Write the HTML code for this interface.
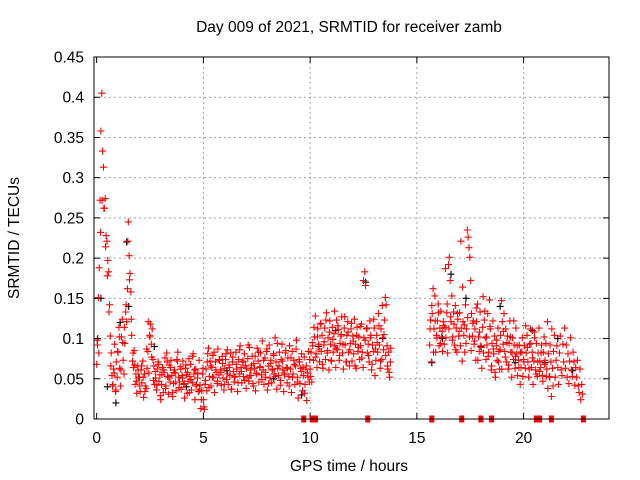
<!DOCTYPE html>
<html><head><meta charset="utf-8"><style>
html,body{margin:0;padding:0;background:#fff;}
svg{display:block;font-family:"Liberation Sans",sans-serif;}
</style></head><body>
<svg id="chart" width="640" height="480" viewBox="0 0 640 480">
<rect width="640" height="480" fill="#fff"/>
<text x="349" y="32" font-size="15.5" text-anchor="middle">Day 009 of 2021, SRMTID for receiver zamb</text>
<text transform="translate(19,238) rotate(-90)" font-size="15.5" text-anchor="middle">SRMTID / TECUs</text>
<text x="349" y="471" font-size="15.5" text-anchor="middle">GPS time / hours</text>
<g id="grid"></g>
<g id="ticks"></g>
<g id="black"></g>
<g id="red"></g>
<g id="gaps"></g>
<rect x="94" y="57" width="515" height="362" fill="none" stroke="#000" stroke-width="1"/>
</svg>
<script>
const xTicks = [0, 5, 10, 15, 20];
const yTicks = [0, 0.05, 0.1, 0.15, 0.2, 0.25, 0.3, 0.35, 0.4, 0.45];
const yTickLabels = ["0","0.05","0.1","0.15","0.2","0.25","0.3","0.35","0.4","0.45"];
const segStarts = [0.0, 2.0, 5.0, 10.0, 15.6];
const segStep = 0.04;
const seg0 = [.068,.092,.151,.188,.272,.358,.405,.333,.313,.262,.274,.228,.221,.197,.183,.142,.103,.082,.054,.043,.062,.093,.034,.071,.052,.083,.114,.063,.041,.102,.124,.073,.056,.094,.133,.121,.162,.245,.203,.181,.158,.104,.072,.064,.085,.043,.056,.032,.066,.052];
const seg1 = [.052,.034,.061,.045,.072,.027,.056,.041,.038,.063,.084,.057,.104,.118,.093,.112,.074,.066,.043,.051,.036,.062,.071,.047,.055,.024,.043,.064,.033,.058,.076,.041,.082,.053,.031,.067,.046,.073,.054,.028,.044,.061,.057,.035,.074,.083,.052,.046,.065,.037,.054,.072,.043,.026,.063,.055,.032,.047,.075,.053,.068,.036,.045,.081,.056,.024,.062,.043,.051,.034,.073,.042,.013,.035,.056];
const seg2 = [.024,.012,.043,.062,.035,.081,.088,.053,.072,.041,.064,.079,.052,.033,.071,.058,.044,.087,.055,.073,.061,.042,.078,.051,.036,.063,.074,.049,.086,.043,.067,.054,.082,.037,.071,.059,.046,.053,.083,.062,.034,.074,.056,.091,.064,.045,.072,.053,.081,.066,.038,.052,.075,.047,.089,.061,.054,.078,.044,.069,.063,.035,.057,.088,.072,.046,.064,.082,.055,.097,.061,.043,.076,.052,.084,.036,.066,.092,.051,.073,.045,.062,.081,.056,.101,.071,.037,.063,.054,.083,.042,.074,.093,.061,.034,.055,.082,.064,.045,.076,.053,.091,.062,.033,.084,.056,.073,.043,.066,.098,.052,.026,.074,.044,.063,.081,.035,.054,.077,.043,.062,.023,.057,.084,.046];
const seg3 = [.062,.083,.046,.091,.073,.102,.128,.081,.064,.112,.093,.071,.118,.084,.104,.063,.092,.113,.074,.132,.082,.101,.061,.122,.093,.072,.114,.083,.106,.091,.064,.123,.086,.111,.073,.094,.103,.127,.082,.062,.113,.092,.071,.104,.121,.083,.066,.094,.112,.072,.103,.081,.124,.093,.063,.114,.084,.102,.074,.091,.118,.083,.064,.101,.183,.166,.112,.082,.093,.071,.122,.104,.061,.092,.084,.113,.054,.073,.104,.083,.131,.092,.063,.112,.074,.101,.086,.123,.151,.142,.091,.062,.083,.052,.071];
const seg4 = [.092,.123,.071,.131,.162,.112,.153,.083,.104,.122,.143,.091,.113,.134,.102,.084,.121,.093,.114,.101,.132,.082,
.192,.201,.172,.121,.153,.102,.133,.092,.141,.113,.083,.124,
.103,.132,.091,.113,.072,.121,.104,.083,.142,.112,
.235,.226,.213,.201,.172,.131,.103,.122,
.093,.112,.073,.121,.143,.102,.084,.133,.091,.063,.114,.082,.123,.101,.074,.092,.131,.083,.148,.112,.061,.094,.122,.081,.103,.052,.091,.073,.113,.084,.062,.104,
.147,.121,.093,.131,.084,.112,.071,.103,.062,.094,.122,.083,.052,.101,.074,.092,.063,.113,.081,.054,.073,.092,.043,.064,.083,
.053,.074,.091,.063,.082,.104,.071,.052,.093,.112,.064,.083,.043,.072,.101,.061,.094,.053,.082,.113,.072,.064,.092,.054,.083,
.102,.073,.094,.062,.121,.081,.053,.092,.071,.112,.063,.084,.104,.052,.073,.091,.064,.043,.082,.103,.061,.054,.093,.071,.113,
.063,.092,.052,.081,.044,.072,.101,.061,.053,.083,.071,.042,.064,.052,.073,.041,.033,.062,.024,.043,.031];
const fillStarts = [0.02, 2.02, 5.02, 10.02, 15.62];
const fillStep = 0.08;
const fill0 = [.098,.082,.232,.272,.262,.214,.178,.133,.066,.041,.057,.036,.084,.102,.061,.095,.114,.142,.221,.173,.124,.082,.067,.047,.061];
const fill1 = [.041,.066,.052,.034,.087,.121,.102,.077,.048,.059,.042,.068,.029,.055,.061,.038,.071,.052,.064,.033,.058,.046,.072,.039,.062,.051,.044,.067,.058,.033,.049,.078,.061,.041,.057,.036,.024,.063];
const fill2 = [.015,.048,.071,.039,.066,.052,.083,.061,.047,.074,.058,.069,.043,.081,.056,.064,.037,.077,.052,.068,.045,.086,.059,.071,.048,.063,.092,.054,.067,.041,.078,.056,.083,.065,.049,.073,.058,.087,.044,.069,.061,.079,.053,.094,.066,.048,.072,.057,.085,.063,.041,.076,.052,.068,.087,.046,.071,.059,.064,.032,.066,.052,.074];
const fill3 = [.053,.095,.114,.077,.102,.087,.119,.068,.096,.123,.085,.108,.073,.099,.134,.088,.116,.079,.105,.093,.127,.071,.108,.086,.119,.097,.066,.104,.089,.115,.076,.172,.098,.113,.079,.101,.068,.124,.087,.095,.116,.072,.141,.105,.079,.066,.058,.088];
const fill4 = [.112,.141,.083,.122,.101,.132,.094,.109,.116,.187,.143,.112,.127,.098,.118,.086,.131,.109,.221,.164,.117,.094,.126,.102,.085,.119,.097,.138,.073,.108,.089,.152,.134,.102,.078,.115,.066,.087,.058,.098,.071,.086,.062,.109,.077,.095,.067,.102,.083,.122,.078,.091,.064,.083,.101,.071,.116,.089,.062,.094,.076,.108,.056,.071,.059,.082,.047,.068,.053,.038,.052,.028,.041];
const blackTimes = [0.05,0.2,0.5,0.9,1.1,1.4,1.5,2.7,4.2,6.1,8.3,9.6,10.4,11.2,12.6,13.4,15.7,16.2,16.6,17.3,18.0,18.9,19.6,20.4,21.0,21.6,22.3];
const blackValues = [.10,.15,.04,.02,.12,.22,.14,.09,.04,.06,.05,.03,.09,.11,.17,.10,.07,.10,.18,.15,.09,.14,.07,.11,.07,.10,.06];
const gapTimes = [9.7, 10.1, 10.25, 12.7, 15.7, 17.1, 18.0, 18.5, 20.6, 20.75, 21.3, 22.8];

const NS = "http://www.w3.org/2000/svg";
const X0 = 94, X1 = 609, Y0 = 419, Y1 = 57;
const xMin = -0.125, xMax = 24.0, yMax = 0.45;
function xs(t){ return X0 + (t - xMin) / (xMax - xMin) * (X1 - X0); }
function ys(v){ return Y0 - v / yMax * (Y0 - Y1); }

const grid = document.getElementById("grid");
const ticks = document.getElementById("ticks");
const svg = document.getElementById("chart");

yTicks.forEach((v, i) => {
  const y = ys(v);
  if (i > 0 && i < yTicks.length - 1) {
    const g = document.createElementNS(NS, "line");
    g.setAttribute("x1", X0); g.setAttribute("x2", X1); g.setAttribute("y1", y); g.setAttribute("y2", y);
    g.setAttribute("stroke", "#a0a0a0"); g.setAttribute("stroke-dasharray", "2,3");
    
    
    grid.appendChild(g);
  }
  const t = document.createElementNS(NS, "path");
  t.setAttribute("d", `M${X0},${y}h6M${X1},${y}h-6`);
  t.setAttribute("stroke", "#000");
  
  
  ticks.appendChild(t);
  const l = document.createElementNS(NS, "text");
  l.setAttribute("x", X0 - 10); l.setAttribute("y", y + 5.5);
  l.setAttribute("font-size", "15.5"); l.setAttribute("text-anchor", "end");
  l.textContent = yTickLabels[i];
  
  
  svg.appendChild(l);
});
xTicks.forEach(v => {
  const x = xs(v);
  if (v > 0) {
    const g = document.createElementNS(NS, "line");
    g.setAttribute("x1", x); g.setAttribute("x2", x); g.setAttribute("y1", Y1); g.setAttribute("y2", Y0);
    g.setAttribute("stroke", "#a0a0a0"); g.setAttribute("stroke-dasharray", "2,3");
    
    
    grid.appendChild(g);
  }
  const t = document.createElementNS(NS, "path");
  t.setAttribute("d", `M${x},${Y0}v-6M${x},${Y1}v6`);
  t.setAttribute("stroke", "#000");
  
  
  ticks.appendChild(t);
  const l = document.createElementNS(NS, "text");
  l.setAttribute("x", x); l.setAttribute("y", Y0 + 24);
  l.setAttribute("font-size", "15.5"); l.setAttribute("text-anchor", "middle");
  l.textContent = String(v);
  
  
  svg.appendChild(l);
});

function plus(parent, t, v, color, name){
  const x = xs(t), y = ys(v);
  const p = document.createElementNS(NS, "path");
  p.setAttribute("d", `M${(x-3.5).toFixed(1)},${y.toFixed(1)}h7M${x.toFixed(1)},${(y-3.5).toFixed(1)}v7`);
  p.setAttribute("stroke", color); p.setAttribute("stroke-width", "1.1"); p.setAttribute("fill", "none");
  
  
  parent.appendChild(p);
}
const black = document.getElementById("black");
blackTimes.forEach((t, i) => plus(black, t, blackValues[i], "#000", "black-point"));
const red = document.getElementById("red");
[seg0, seg1, seg2, seg3, seg4].forEach((seg, s) => {
  seg.forEach((v, i) => plus(red, segStarts[s] + i * segStep, v, "#ff0000", "red-point"));
});
[fill0, fill1, fill2, fill3, fill4].forEach((seg, s) => {
  seg.forEach((v, i) => plus(red, fillStarts[s] + i * fillStep, v, "#ff0000", "red-point"));
});
const gaps = document.getElementById("gaps");
gapTimes.forEach(t => {
  const r = document.createElementNS(NS, "rect");
  r.setAttribute("x", xs(t) - 2.5); r.setAttribute("y", Y0 - 3.5);
  r.setAttribute("width", 5); r.setAttribute("height", 7);
  r.setAttribute("fill", "#ff0000");
  
  
  gaps.appendChild(r);
});
</script>
</body></html>
